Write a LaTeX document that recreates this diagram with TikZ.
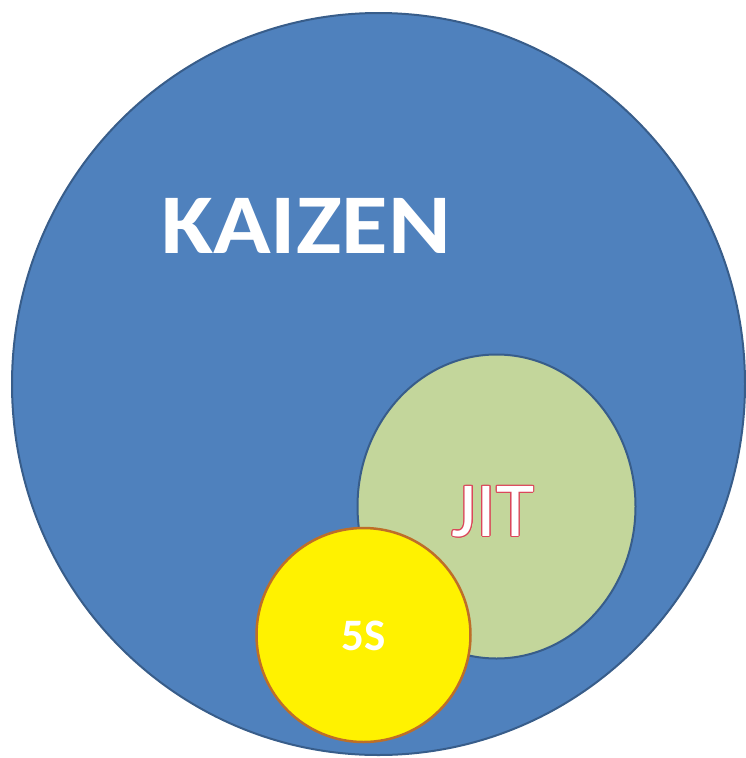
\documentclass[tikz,border=0pt]{standalone}
\usepackage{fontspec}
\setmainfont{Carlito}
\usepackage{contour}
\usetikzlibrary{shapes.geometric,positioning}
\definecolor{kaizenblue}{RGB}{79,129,189}
\definecolor{kaizenedge}{RGB}{56,93,138}
\definecolor{jitgreen}{RGB}{195,214,155}
\definecolor{fivesedge}{RGB}{190,110,40}
\definecolor{jitred}{RGB}{220,70,90}
\colorlet{accent}{kaizenblue}
\tikzset{
  blob/.style={ellipse, inner sep=0pt, line width=2pt},
  label/.style={text=white, inner sep=0pt}
}
\contourlength{0.9pt}

\begin{document}
\begin{tikzpicture}[x=1pt, y=-1pt]
  \useasboundingbox (0,0) rectangle (746,758);
  % the three circles
  \node[blob, fill=accent, draw=kaizenedge, minimum width=733pt, minimum height=742pt] (kaizen) at (378.5,384) {};
  \node[blob, fill=jitgreen, draw=kaizenedge, minimum width=278pt, minimum height=304pt] (jit) at (496.5,506.5) {};
  \node[blob, fill=yellow, draw=fivesedge, line width=2.5pt, minimum width=214pt, minimum height=214pt] (fives) at (363.5,635) {};
  % texts
  \node[label, font=\bfseries\fontsize{85}{85}\selectfont] (kaizentext) at (306,226) {\scalebox{1.12}[1]{KAIZEN}};
  \node[inner sep=0pt, font=\fontsize{78}{78}\selectfont] (jittext) at (493,512) {\contour{jitred}{\textcolor{white}{JIT}}};
  \node[label, font=\bfseries\fontsize{45}{45}\selectfont] (fivestext) at (364,636) {5S};
\end{tikzpicture}
\end{document}
